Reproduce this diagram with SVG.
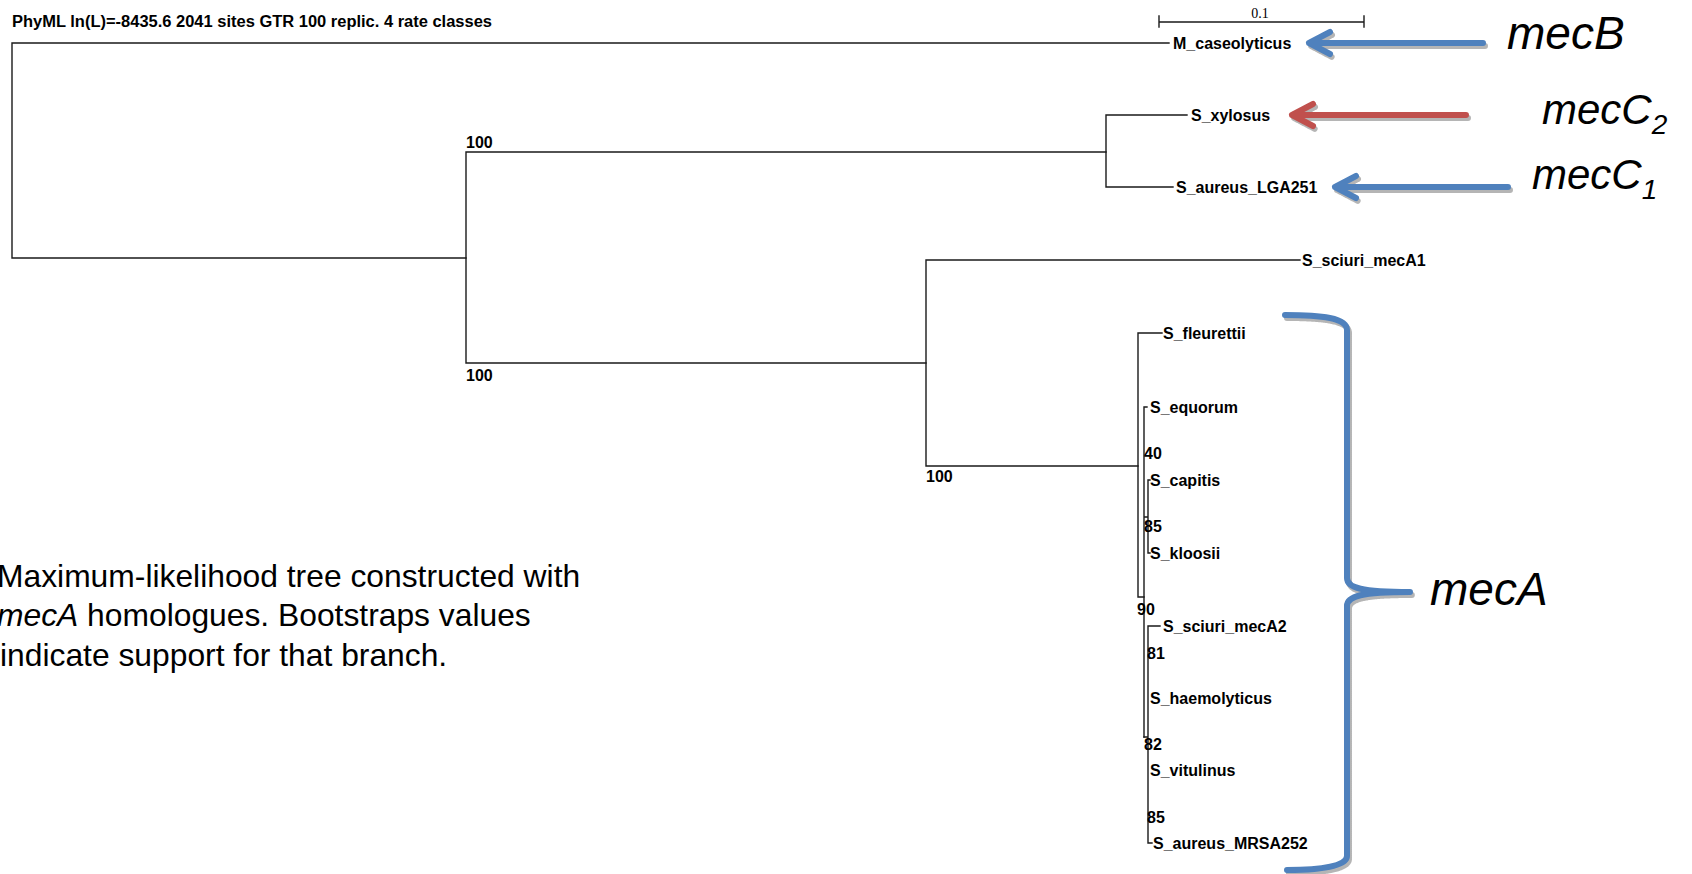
<svg xmlns="http://www.w3.org/2000/svg" width="1692" height="874" viewBox="0 0 1692 874">
<style>
.br{stroke:#1a1a1a;stroke-width:1.4;fill:none;stroke-linecap:square}
.lb{font-family:"Liberation Sans",Arial,sans-serif;font-weight:bold;font-size:16px;fill:#000}
.bs{font-family:"Liberation Sans",Arial,sans-serif;font-weight:bold;font-size:16px;fill:#000}
.gene{font-family:"Liberation Sans",Arial,sans-serif;font-style:italic;fill:#000}
.cap{font-family:"Liberation Sans",Arial,sans-serif;font-size:31.8px;fill:#000}
.arr{fill:none;stroke-width:6;stroke-linecap:round;stroke-linejoin:round}
.shd{fill:none;stroke:#b5b5b5;stroke-width:6;stroke-linecap:round;stroke-linejoin:round;stroke-dasharray:1 1}
</style>
<rect width="1692" height="874" fill="#fff"/>
<text id="title" x="12" y="27" class="lb" font-size="16.5" textLength="480" lengthAdjust="spacingAndGlyphs">PhyML ln(L)=-8435.6 2041 sites GTR 100 replic. 4 rate classes</text>
<g id="scalebar">
<path class="br" d="M1159,22 H1364 M1159,16 V27 M1364,16 V27"/>
<text x="1260" y="18" text-anchor="middle" font-family="'Liberation Serif',serif" font-size="14">0.1</text>
</g>
<g id="connectors">
<path class="br" d="M12,43 V258 M12,43 H1169 M12,258 H466"/>
<path class="br" d="M466,152 V363 M466,152 H1106 M466,363 H926"/>
<path class="br" d="M1106,115 V187 M1106,115 H1187 M1106,187 H1173"/>
<path class="br" d="M926,260 V466 M926,260 H1300 M926,466 H1138"/>
<path class="br" d="M1138,333 V597 M1138,333 H1162 M1138,597 H1144"/>
<path class="br" d="M1144,407 V737 M1144,407 H1147 M1144,517 H1148 M1148,480 V553 M1148,480 H1150 M1148,553 H1150"/>
<path class="br" d="M1144,737 H1148 M1148,626 V843 M1148,626 H1160 M1148,843 H1152"/>
</g>
<g id="bootstraps">
<text class="bs" x="466" y="148">100</text>
<text class="bs" x="466" y="381">100</text>
<text class="bs" x="926" y="482">100</text>
<text class="bs" x="1144" y="459">40</text>
<text class="bs" x="1144" y="532">85</text>
<text class="bs" x="1137" y="615">90</text>
<text class="bs" x="1147" y="659">81</text>
<text class="bs" x="1144" y="750">82</text>
<text class="bs" x="1147" y="823">85</text>
</g>
<g id="M_caseolyticus"><text class="lb" x="1173" y="49">M_caseolyticus</text></g>
<g id="S_xylosus"><text class="lb" x="1191" y="121">S_xylosus</text></g>
<g id="S_aureus_LGA251"><text class="lb" x="1176" y="193">S_aureus_LGA251</text></g>
<g id="S_sciuri_mecA1"><text class="lb" x="1302" y="266">S_sciuri_mecA1</text></g>
<g id="S_fleurettii"><text class="lb" x="1163" y="339">S_fleurettii</text></g>
<g id="S_equorum"><text class="lb" x="1150" y="413">S_equorum</text></g>
<g id="S_capitis"><text class="lb" x="1150" y="486">S_capitis</text></g>
<g id="S_kloosii"><text class="lb" x="1150" y="559">S_kloosii</text></g>
<g id="S_sciuri_mecA2"><text class="lb" x="1163" y="632">S_sciuri_mecA2</text></g>
<g id="S_haemolyticus"><text class="lb" x="1150" y="704">S_haemolyticus</text></g>
<g id="S_vitulinus"><text class="lb" x="1150" y="776">S_vitulinus</text></g>
<g id="S_aureus_MRSA252"><text class="lb" x="1153" y="849">S_aureus_MRSA252</text></g>

<g id="arrow_mecB">
<path class="shd" transform="translate(2,3)" d="M1483,43 H1309 M1330,32 L1309,43 L1330,54"/>
<path class="arr" stroke="#4F81BD" d="M1483,43 H1309 M1330,32 L1309,43 L1330,54"/>
<text class="gene" x="1507" y="49" font-size="46">mecB</text>
</g>
<g id="arrow_mecC2">
<path class="shd" transform="translate(2,3)" d="M1466,115 H1292 M1313,104 L1292,115 L1313,126"/>
<path class="arr" stroke="#C0504D" d="M1466,115 H1292 M1313,104 L1292,115 L1313,126"/>
<text class="gene" x="1542" y="124" font-size="42">mecC<tspan font-size="28" dy="10">2</tspan></text>
</g>
<g id="arrow_mecC1">
<path class="shd" transform="translate(2,3)" d="M1508,187 H1335 M1356,176 L1335,187 L1356,198"/>
<path class="arr" stroke="#4F81BD" d="M1508,187 H1335 M1356,176 L1335,187 L1356,198"/>
<text class="gene" x="1532" y="189" font-size="42">mecC<tspan font-size="28" dy="10">1</tspan></text>
</g>
<g id="brace_mecA">
<path class="shd" transform="translate(2,3)" d="M1285,315 C1322,315 1347,318 1347,330 L1347,578 C1347,588 1362,592 1410,592 C1362,592 1347,596 1347,606 L1347,856 C1347,866 1322,870 1287,870"/>
<path class="arr" stroke="#4F81BD" d="M1285,315 C1322,315 1347,318 1347,330 L1347,578 C1347,588 1362,592 1410,592 C1362,592 1347,596 1347,606 L1347,856 C1347,866 1322,870 1287,870"/>
<text class="gene" x="1430" y="605" font-size="46">mecA</text>
</g>
<g id="caption">
<text class="cap" x="-3" y="587">Maximum-likelihood tree constructed with</text>
<text class="cap" x="-3" y="626"><tspan font-style="italic">mecA</tspan> homologues. Bootstraps values</text>
<text class="cap" x="0" y="666">indicate support for that branch.</text>
</g>
</svg>
